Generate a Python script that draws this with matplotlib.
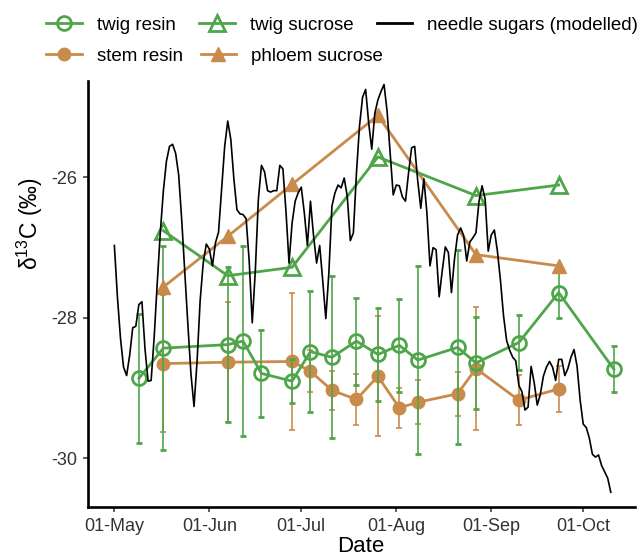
import datetime as dt
import matplotlib
matplotlib.use("Agg")
import matplotlib.pyplot as plt
import matplotlib.dates as mdates
from matplotlib.lines import Line2D

plt.rcParams['font.family'] = ['Liberation Sans', 'DejaVu Sans']
plt.rcParams['mathtext.fontset'] = 'custom'
plt.rcParams['mathtext.rm'] = 'Liberation Sans'
plt.rcParams['mathtext.it'] = 'Liberation Sans:italic'

YEAR = 2016

# ---------------- data ----------------
twig_resin_dates = ["05-09", "05-17", "06-07", "06-12", "06-18", "06-28", "07-04", "07-11",
                    "07-19", "07-26", "08-02", "08-08", "08-21", "08-27", "09-10", "09-23", "10-11"]
twig_resin = [-28.86, -28.43, -28.38, -28.33, -28.79, -28.90, -28.48, -28.56,
              -28.33, -28.52, -28.39, -28.60, -28.42, -28.64, -28.35, -27.64, -28.73]
twig_resin_sd = [0.92, 1.45, 1.10, 1.35, 0.62, 0.31, 0.86, 1.15,
                 0.62, 0.66, 0.66, 1.34, 1.38, 0.65, 0.39, 0.36, 0.33]

stem_resin_dates = ["05-17", "06-07", "06-28", "07-04", "07-11", "07-19", "07-26",
                    "08-02", "08-08", "08-21", "08-27", "09-10", "09-23"]
stem_resin = [-28.65, -28.63, -28.62, -28.76, -29.03, -29.16, -28.83,
              -29.28, -29.20, -29.08, -28.72, -29.17, -29.01]
stem_resin_sd = [0.98, 0.85, 0.97, 0.30, 0.28, 0.36, 0.85,
                 0.28, 0.31, 0.31, 0.87, 0.36, 0.33]

sucrose_dates = ["05-17", "06-07", "06-28", "07-26", "08-27", "09-23"]
twig_sucrose = [-26.76, -27.40, -27.28, -25.71, -26.26, -26.11]
phloem_sucrose = [-27.56, -26.84, -26.10, -25.12, -27.10, -27.26]

needle_start = "05-01"
needle_sugars = [
    -26.97, -27.70, -28.29, -28.70, -28.82, -28.53, -28.14, -28.12, -27.81, -27.77,
    -28.44, -28.90, -28.89, -28.27, -27.50, -26.78, -26.19, -25.77, -25.56, -25.53,
    -25.66, -25.97, -26.62, -27.36, -28.10, -28.80, -29.26, -28.61, -27.75, -27.22,
    -26.95, -27.02, -27.26, -26.93, -26.78, -26.17, -25.56, -25.20, -25.46, -26.02,
    -26.46, -26.52, -26.53, -26.59, -27.19, -28.07, -27.33, -26.31, -25.83, -25.92,
    -26.19, -26.21, -26.19, -26.19, -25.83, -25.88, -26.48, -27.22, -26.65, -26.34,
    -26.22, -26.14, -26.51, -26.97, -26.34, -26.83, -27.22, -26.97, -27.47, -28.01,
    -27.36, -26.41, -26.22, -26.11, -26.15, -26.01, -26.27, -26.90, -26.79, -25.94,
    -25.27, -24.86, -24.75, -25.23, -25.60, -25.09, -24.90, -24.78, -24.68, -25.06,
    -25.66, -26.25, -26.11, -26.12, -26.28, -26.34, -25.94, -25.58, -25.56, -26.05,
    -26.44, -26.02, -26.51, -27.26, -27.00, -27.03, -27.70, -27.33, -26.99, -27.07,
    -27.64, -27.16, -26.82, -26.72, -26.83, -27.19, -26.92, -26.86, -26.79, -26.34,
    -26.12, -26.31, -27.05, -26.82, -26.75, -27.05, -27.47, -27.97, -28.32, -28.46,
    -28.56, -28.61, -28.96, -29.05, -29.31, -29.27, -28.69, -28.92, -29.24, -29.09,
    -28.83, -28.70, -28.62, -28.70, -28.89, -28.59, -28.59, -28.82, -28.72, -28.56,
    -28.45, -28.69, -29.17, -29.51, -29.56, -29.71, -29.94, -29.98, -29.95, -30.10,
    -30.19, -30.28, -30.48]

x_ticks = ["05-01", "06-01", "07-01", "08-01", "09-01", "10-01"]
y_ticks = [-30, -28, -26]
y_tick_labels = ["-30", "-28", "-26"]


def to_dates(md):
    return [dt.datetime.strptime(f"{YEAR}-{s}", "%Y-%m-%d") for s in md]


GREEN = "#4FA54A"
ORANGE = "#C98B4B"

fig = plt.figure(figsize=(6.40, 5.58), dpi=100)
ax = fig.add_axes([88 / 640, 51 / 558, 547 / 640, 426 / 558])

start = to_dates([needle_start])[0]
needle_x = [start + dt.timedelta(days=i) for i in range(len(needle_sugars))]

# stem resin (orange)
ax.errorbar(to_dates(stem_resin_dates), stem_resin, yerr=stem_resin_sd, color=ORANGE,
            lw=2.0, elinewidth=1.2, capsize=2.5, capthick=1.2, marker='o', ms=9,
            mfc=ORANGE, mec=ORANGE, zorder=2)
# twig resin (green)
ax.errorbar(to_dates(twig_resin_dates), twig_resin, yerr=twig_resin_sd, color=GREEN,
            lw=2.0, elinewidth=1.2, capsize=2.5, capthick=1.2, marker='o', ms=10,
            mfc='none', mec=GREEN, mew=2.0, zorder=3)
# phloem sucrose
ax.plot(to_dates(sucrose_dates), phloem_sucrose, color=ORANGE, lw=2.0, marker='^', ms=10,
        mfc=ORANGE, mec=ORANGE, zorder=3)
# twig sucrose
ax.plot(to_dates(sucrose_dates), twig_sucrose, color=GREEN, lw=2.0, marker='^', ms=11,
        mfc='none', mec=GREEN, mew=2.0, zorder=3)
# needle sugars modelled
ax.plot(needle_x, needle_sugars, color='black', lw=1.2, zorder=4)

x0 = start
ax.set_xlim(x0 - dt.timedelta(days=8.6), x0 + dt.timedelta(days=169.9))
ax.set_ylim(-30.69, -24.63)
ax.set_xticks(to_dates(x_ticks))
ax.xaxis.set_major_formatter(mdates.DateFormatter("%d-%b"))
ax.set_yticks(y_ticks)
ax.set_yticklabels(y_tick_labels)

for s in ['top', 'right']:
    ax.spines[s].set_visible(False)
for s in ['left', 'bottom']:
    ax.spines[s].set_linewidth(1.9)
    ax.spines[s].set_color('black')
ax.tick_params(axis='both', length=3.6, width=1.1, color='#333333', labelcolor='#333333',
               labelsize=13, pad=4)

fig.text(361 / 640, 1 - 546 / 558, "Date", fontsize=16, ha='center', va='center')
fig.text(30 / 640, 1 - 224 / 558, "δ$^{13}$C (‰)", rotation=90, fontsize=16.5,
         ha='center', va='center')

# legend (two rows)
h_twig_resin = Line2D([], [], color=GREEN, lw=2.0, marker='o', ms=10, mfc='none', mec=GREEN, mew=2.0)
h_twig_suc = Line2D([], [], color=GREEN, lw=2.0, marker='^', ms=11, mfc='none', mec=GREEN, mew=2.0)
h_needle = Line2D([], [], color='black', lw=2.0)
h_stem = Line2D([], [], color=ORANGE, lw=2.0, marker='o', ms=9, mfc=ORANGE, mec=ORANGE)
h_phloem = Line2D([], [], color=ORANGE, lw=2.0, marker='^', ms=10, mfc=ORANGE, mec=ORANGE)

leg1 = fig.legend([h_twig_resin, h_twig_suc, h_needle],
                  ["twig resin", "twig sucrose", "needle sugars (modelled)"],
                  ncol=3, loc='center left', bbox_to_anchor=(46 / 640, 1 - 25 / 558),
                  frameon=False, fontsize=13.5, handlelength=1.9, handletextpad=0.8,
                  columnspacing=1.25, borderpad=0, borderaxespad=0)
leg2 = fig.legend([h_stem, h_phloem], ["stem resin", "phloem sucrose"],
                  ncol=2, loc='center left', bbox_to_anchor=(46 / 640, 1 - 56 / 558),
                  frameon=False, fontsize=13.5, handlelength=1.9, handletextpad=0.8,
                  columnspacing=0.95, borderpad=0, borderaxespad=0)

fig.savefig("out.png", dpi=100, facecolor='white')
